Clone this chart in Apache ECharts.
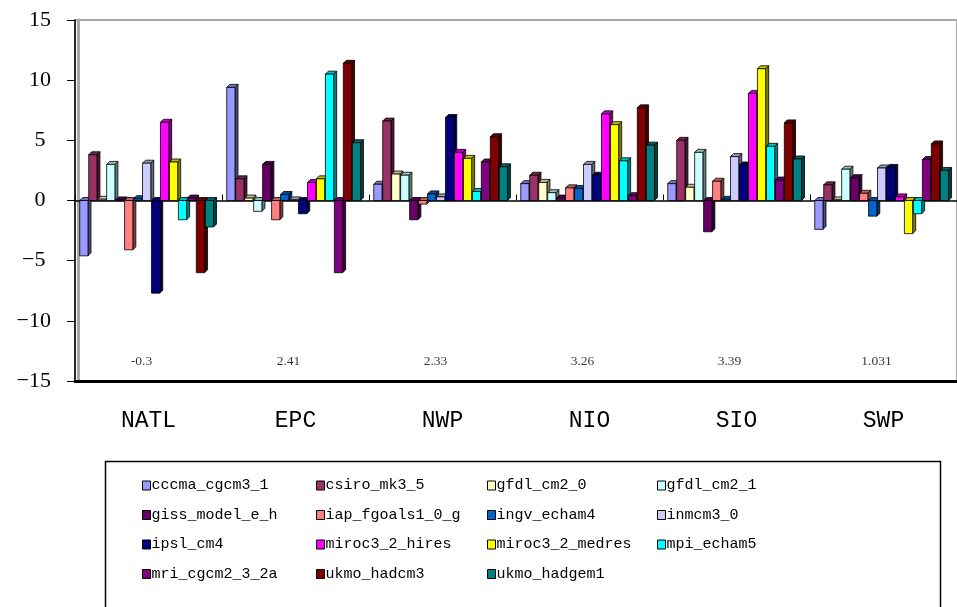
<!DOCTYPE html>
<html>
<head>
<meta charset="utf-8">
<script src="https://cdn.jsdelivr.net/npm/echarts@6/dist/echarts.min.js"></script>
<style>
  html, body { margin: 0; padding: 0; background: #fff; }
  #chart { width: 957px; height: 607px; }
</style>
</head>
<body>
<div id="chart"></div>
<script>
// Regions on the category axis
const regions = ['NATL', 'EPC', 'NWP', 'NIO', 'SIO', 'SWP'];

// Per-region summary figures printed near the bottom of the plot
const regionNotes = ['-0.3', '2.41', '2.33', '3.26', '3.39', '1.031'];

// Y-axis ticks
const yTicks = [-15, -10, -5, 0, 5, 10, 15];

// Model runs, values per region (NATL, EPC, NWP, NIO, SIO, SWP)
const cccma_cgcm3_1   = [-4.6,  9.4,  1.35, 1.4,  1.4,  -2.4];
const csiro_mk3_5     = [ 3.8,  1.8,  6.6,  2.1,  5.0,   1.3];
const gfdl_cm2_0      = [ 0.1,  0.2,  2.2,  1.5,  1.1,   0.05];
const gfdl_cm2_1      = [ 3.0, -0.9,  2.1,  0.65, 4.0,   2.6];
const giss_model_e_h  = [ 0.05, 3.0, -1.6,  0.2, -2.6,   1.9];
const iap_fgoals1_0_g = [-4.1, -1.6, -0.3,  1.05, 1.6,   0.6];
const ingv_echam4     = [ 0.15, 0.5,  0.55, 1.0,  0.1,  -1.3];
const inmcm3_0        = [ 3.1,  0.05, 0.3,  3.0,  3.65,  2.7];
const ipsl_cm4        = [-7.7, -1.1,  6.9,  2.1,  2.95,  2.75];
const miroc3_2_hires  = [ 6.5,  1.5,  4.0,  7.2,  8.9,   0.3];
const miroc3_2_medres = [ 3.2,  1.8,  3.5,  6.3, 10.95, -2.75];
const mpi_echam5      = [-1.6, 10.5,  0.75, 3.3,  4.5,  -1.1];
const mri_cgcm2_3_2a  = [ 0.2, -6.0,  3.2,  0.4,  1.7,   3.4];
const ukmo_hadcm3     = [-6.0, 11.4,  5.3,  7.7,  6.45,  4.7];
const ukmo_hadgem1    = [-2.2,  4.8,  2.8,  4.6,  3.45,  2.5];

const models = [
  ['cccma_cgcm3_1',   cccma_cgcm3_1,   '#9999FF'],
  ['csiro_mk3_5',     csiro_mk3_5,     '#993366'],
  ['gfdl_cm2_0',      gfdl_cm2_0,      '#FFFFCC'],
  ['gfdl_cm2_1',      gfdl_cm2_1,      '#CCFFFF'],
  ['giss_model_e_h',  giss_model_e_h,  '#660066'],
  ['iap_fgoals1_0_g', iap_fgoals1_0_g, '#FF8080'],
  ['ingv_echam4',     ingv_echam4,     '#0066CC'],
  ['inmcm3_0',        inmcm3_0,        '#CCCCFF'],
  ['ipsl_cm4',        ipsl_cm4,        '#000080'],
  ['miroc3_2_hires',  miroc3_2_hires,  '#FF00FF'],
  ['miroc3_2_medres', miroc3_2_medres, '#FFFF00'],
  ['mpi_echam5',      mpi_echam5,      '#00FFFF'],
  ['mri_cgcm2_3_2a',  mri_cgcm2_3_2a,  '#800080'],
  ['ukmo_hadcm3',     ukmo_hadcm3,     '#800000'],
  ['ukmo_hadgem1',    ukmo_hadgem1,    '#008080']
];

const N = models.length;
const DEPTH = 3;          // extrusion of the pseudo-3D columns, px
const STEP_RATIO = 0.061; // column pitch as a share of the category width

function shade(hex, k) {
  const n = parseInt(hex.slice(1), 16);
  const r = Math.round(((n >> 16) & 255) * k);
  const g = Math.round(((n >> 8) & 255) * k);
  const b = Math.round((n & 255) * k);
  return 'rgb(' + r + ',' + g + ',' + b + ')';
}

// Extruded column: front face, top face and right side face
function makeRenderer(idx, color) {
  const topColor = shade(color, 0.75);
  const sideColor = shade(color, 0.5);
  return function (params, api) {
    const cat = api.value(0);
    const v = api.value(1);
    const base = api.coord([cat, 0]);
    const tip = api.coord([cat, v]);
    const catW = api.size([1, 0])[0];
    const step = catW * STEP_RATIO;
    const w = step * 0.92;
    const start = base[0] - (N * step + DEPTH) / 2;
    const x = start + idx * step;
    const yTop = Math.min(base[1], tip[1]);
    const yBot = Math.max(base[1], tip[1]);
    const stroke = { stroke: '#000', lineWidth: 0.8 };
    return {
      type: 'group',
      children: [
        {
          type: 'polygon',
          shape: { points: [[x + w, yTop], [x + w + DEPTH, yTop - DEPTH], [x + w + DEPTH, yBot - DEPTH], [x + w, yBot]] },
          style: Object.assign({ fill: sideColor }, stroke)
        },
        {
          type: 'polygon',
          shape: { points: [[x, yTop], [x + DEPTH, yTop - DEPTH], [x + w + DEPTH, yTop - DEPTH], [x + w, yTop]] },
          style: Object.assign({ fill: topColor }, stroke)
        },
        {
          type: 'rect',
          shape: { x: x, y: yTop, width: w, height: Math.max(yBot - yTop, 0.5) },
          style: Object.assign({ fill: color }, stroke)
        }
      ]
    };
  };
}

const series = models.map(function (m, i) {
  return {
    name: m[0],
    type: 'custom',
    xAxisIndex: 0,
    yAxisIndex: 0,
    itemStyle: { color: m[2] },
    renderItem: makeRenderer(i, m[2]),
    encode: { x: 0, y: 1 },
    data: m[1].map(function (v, c) { return [c, v]; }),
    z: 3
  };
});

// Summary figure under each region
series.push({
  type: 'scatter',
  xAxisIndex: 0,
  yAxisIndex: 0,
  symbolSize: 0,
  silent: true,
  data: regionNotes.map(function (t, c) { return [c, -13.4]; }),
  label: {
    show: true,
    position: 'inside',
    offset: [-7, 0],
    formatter: function (p) { return regionNotes[p.dataIndex]; },
    fontFamily: 'Liberation Serif',
    fontSize: 13.5,
    color: '#000'
  }
});

// Legend laid out as four columns
const legendBase = {
  orient: 'vertical',
  top: 473,
  itemWidth: 8,
  itemHeight: 9,
  itemGap: 14.5,
  icon: 'rect',
  itemStyle: { borderColor: '#000', borderWidth: 1 },
  textStyle: { fontFamily: 'Liberation Mono', fontSize: 15, color: '#000', padding: [7, 0, 0, -4] },
  selectedMode: false
};
const columnsLeft = [137, 311, 482, 652];
const legends = columnsLeft.map(function (left, col) {
  const names = [];
  for (let i = col; i < N; i += 4) names.push(models[i][0]);
  return Object.assign({}, legendBase, { left: left, data: names });
});

const chart = echarts.init(document.getElementById('chart'), null, { renderer: 'canvas' });
chart.setOption({
  backgroundColor: '#fff',
  animation: false,
  grid: {
    left: 75, top: 20, width: 886, height: 361,
    show: true, borderColor: '#a8a8a8', borderWidth: 2, backgroundColor: 'transparent'
  },
  legend: legends,
  graphic: [{
    type: 'rect',
    left: 103, top: 459,
    shape: { width: 835, height: 170 },
    style: { fill: 'none', stroke: '#000', lineWidth: 1.5 },
    z: 0
  }],
  xAxis: [
    {
      type: 'category',
      data: regions,
      position: 'bottom',
      axisLine: { onZero: true, lineStyle: { color: '#000', width: 1.5 } },
      axisTick: { show: true, inside: true, length: 6, lineStyle: { color: '#000' } },
      axisLabel: { show: false },
      splitLine: { show: false }
    },
    {
      type: 'category',
      data: regions,
      position: 'bottom',
      axisLine: { onZero: false, lineStyle: { color: '#000', width: 3 } },
      axisTick: { show: false },
      axisLabel: { show: true, margin: 28, fontFamily: 'Liberation Mono', fontSize: 23, color: '#000' },
      splitLine: { show: false }
    }
  ],
  yAxis: [
    {
      type: 'value',
      min: yTicks[0],
      max: yTicks[yTicks.length - 1],
      interval: 5,
      axisLine: { show: true, lineStyle: { color: '#000', width: 1.5 } },
      axisTick: { show: true, length: 8, lineStyle: { color: '#000' } },
      splitLine: { show: false },
      axisLabel: {
        margin: 35,
        align: 'center',
        fontFamily: 'Liberation Serif',
        fontSize: 22,
        color: '#000',
        formatter: function (v) {
          return v < 0 ? '\u2212' + (-v) + '{h|\u2212}' : String(v);
        },
        rich: { h: { color: 'transparent', fontFamily: 'Liberation Serif', fontSize: 22 } }
      }
    },
    {
      type: 'value',
      min: yTicks[0],
      max: yTicks[yTicks.length - 1],
      interval: 5,
      position: 'left',
      offset: -3,
      axisLine: { show: true, lineStyle: { color: '#a8a8a8', width: 3 } },
      axisTick: { show: false },
      axisLabel: { show: false },
      splitLine: { show: false }
    }
  ],
  series: series
});
</script>
</body>
</html>
